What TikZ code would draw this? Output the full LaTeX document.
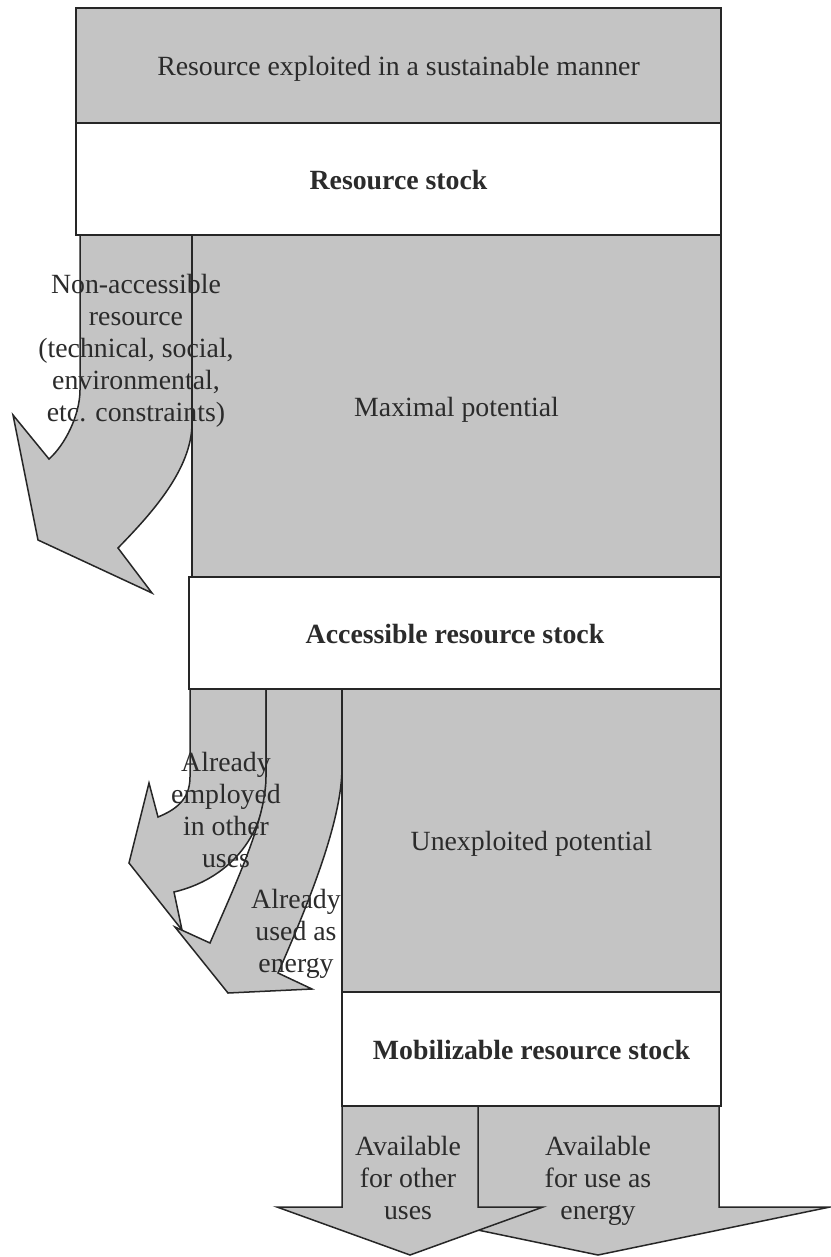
\documentclass[tikz,border=0pt]{standalone}
\usepackage{fontspec}
\setmainfont{Liberation Serif}
\definecolor{shade}{HTML}{C4C4C4}
\definecolor{edge}{HTML}{262626}
\definecolor{ink}{HTML}{2B2B2B}
\newcommand{\lblfont}{\fontsize{27.8}{32}\selectfont}
% invisible rule fixing the height and depth of a label line
\newcommand{\lblstrut}{\rule[-5.6pt]{0pt}{32pt}}
\tikzset{
  flowshape/.style={fill=shade, draw=edge, line width=1.5pt, line join=miter},
  stockbox/.style={draw=edge, line width=1.5pt, inner sep=0pt, font=\lblfont, text=ink,
    anchor=center, execute at begin node=\lblstrut},
  greybox/.style={stockbox, fill=shade},
  whitebox/.style={stockbox, fill=white, font=\lblfont\bfseries},
  flowlabel/.style={font=\lblfont, text=ink, align=center, inner sep=0pt,
    execute at begin node=\lblstrut, execute at end node=\lblstrut}
}
\begin{document}
\begin{tikzpicture}[x=1pt, y=-1pt]
\useasboundingbox (0,0) rectangle (830,1257);

% outgoing flows below the mobilizable stock
\draw[flowshape] (478,1106) -- (478,1207) -- (367,1207) -- (598,1255) -- (830,1207)
  -- (719,1207) -- (719,1106) -- cycle;
\draw[flowshape] (342,1106) -- (342,1207) -- (277,1207) -- (410,1255) -- (543,1207)
  -- (478,1207) -- (478,1106) -- cycle;

% curved flow: non-accessible resource
\draw[flowshape] (80,235) -- (80,390) .. controls (80,415) and (65,445) .. (49,459)
  -- (13,415) -- (38,540) -- (152,593) -- (118,548)
  .. controls (150,515) and (192,470) .. (192,423) -- (192,235) -- cycle;

% curved flows below the accessible stock
\draw[flowshape] (190,689) -- (190,777) .. controls (190,800) and (175,810) .. (158,817)
  -- (149,783) -- (129,863) -- (182,930) -- (174,892)
  .. controls (225,880) and (266,840) .. (266,777) -- (266,689) -- cycle;
\draw[flowshape] (266,689) -- (266,777) .. controls (266,820) and (235,885) .. (210,943)
  -- (175,927) -- (228,993) -- (312,989) -- (278,973)
  .. controls (310,900) and (342,820) .. (342,767) -- (342,689) -- cycle;

% stocks and potentials
\node[greybox, minimum width=645pt, minimum height=115pt] (sust) at (398.5,65.5)
  {Resource exploited in a sustainable manner};
\node[whitebox, minimum width=645pt, minimum height=112pt] (stock) at (398.5,179)
  {Resource stock};
\node[greybox, minimum width=529pt, minimum height=342pt] (maxpot) at (456.5,406)
  {Maximal potential};
\node[whitebox, minimum width=532pt, minimum height=112pt] (access) at (455,633)
  {Accessible resource stock};
\node[greybox, minimum width=379pt, minimum height=303pt] (unexp) at (531.5,840.5)
  {Unexploited potential};
\node[whitebox, minimum width=379pt, minimum height=114pt] (mobil) at (531.5,1049)
  {Mobilizable resource stock};

% flow labels
\node[flowlabel] (nonacc) at (136,351)
  {Non-accessible\\resource\\(technical, social,\\environmental,\\etc. constraints)};
\node[flowlabel] (employed) at (226,813) {Already\\employed\\in other\\uses};
\node[flowlabel] (usedenergy) at (296,934) {Already\\used as\\energy};
\node[flowlabel] (availother) at (408,1181) {Available\\for other\\uses};
\node[flowlabel] (availenergy) at (598,1181) {Available\\for use as\\energy};
\end{tikzpicture}
\end{document}
